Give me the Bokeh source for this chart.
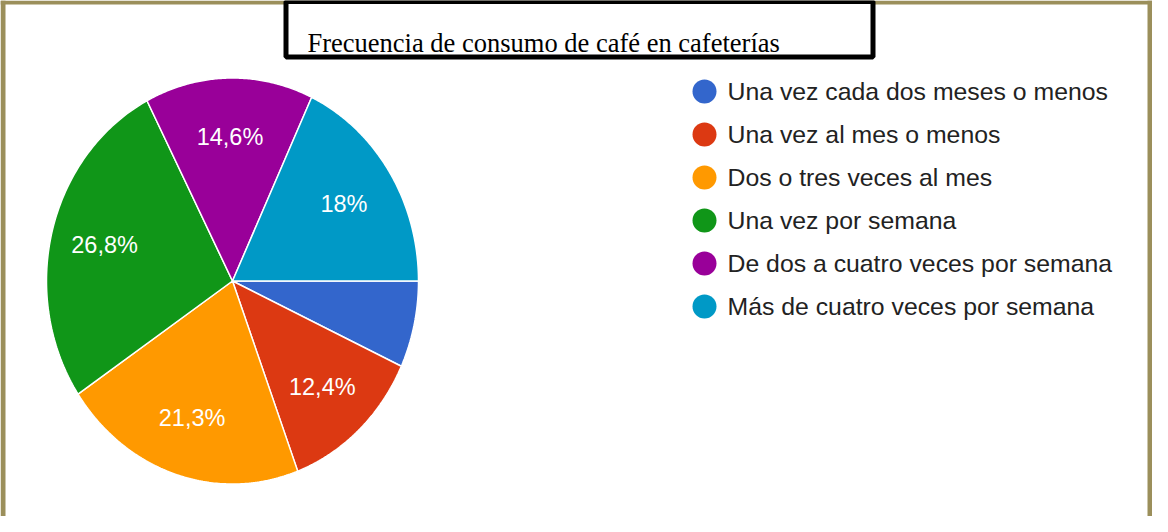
import numpy as np
from bokeh.plotting import figure
from bokeh.models import Range1d, ColumnDataSource
from bokeh.core.properties import value
from bokeh.embed import file_html
from bokeh.resources import INLINE

# ---- data ----
title = "Frecuencia de consumo de café en cafeterías"
categories = [
    "Una vez cada dos meses o menos",
    "Una vez al mes o menos",
    "Dos o tres veces al mes",
    "Una vez por semana",
    "De dos a cuatro veces por semana",
    "Más de cuatro veces por semana",
]
values = [6.9, 12.4, 21.3, 26.8, 14.6, 18.0]
colors = ["#3366cc", "#dc3912", "#ff9900", "#109618", "#990099", "#0099c6"]

# ---- layout (page pixel coordinates, y down) ----
W, H = 1152, 516
p = figure(width=W, height=H, x_range=Range1d(8, 8 + W), y_range=Range1d(8 + H, 8),
           x_axis_type=None, y_axis_type=None, toolbar_location=None,
           output_backend="svg", min_border=0, outline_line_color=None,
           background_fill_color="white", border_fill_color="white")
p.xgrid.visible = False
p.ygrid.visible = False

# olive frame (left, top, right)
frame_col = "#9b8f5b"
p.quad(left=[8, 8, 1155], right=[13, 1160, 1160], top=[8, 8, 8], bottom=[524, 12, 524],
       fill_color=frame_col, line_color=None)

# title box
p.quad(left=[293.5], right=[880.5], top=[9], bottom=[64.5],
       fill_color="white", line_color="black", line_width=5)
p.text(x=[315], y=[50], text=[title], text_font=value("Liberation Serif"),
       text_font_size="26.5px", text_color="black", text_baseline="alphabetic")

# pie (slightly elliptical as in reference)
cx, cy, rx, ry = 240.0, 288.5, 186.0, 203.0
total = sum(values)
cum = np.concatenate([[0.0], np.cumsum(values)]) / total * 2 * np.pi
xs, ys = [], []
lx, ly, ltxt = [], [], []
for i in range(len(values)):
    a0, a1 = cum[i], cum[i + 1]
    t = np.linspace(a0, a1, 120)
    xs.append([cx] + list(cx + rx * np.cos(t)))
    ys.append([cy] + list(cy + ry * np.sin(t)))
    mid = (a0 + a1) / 2
    lx.append(cx + 0.71 * rx * np.cos(mid))
    ly.append(cy + 0.71 * ry * np.sin(mid))
    v = values[i]
    s = ("%g" % v).replace(".", ",") + "%" if v >= 10 else ""
    ltxt.append(s)

p.patches(xs=xs, ys=ys, fill_color=colors, line_color="white", line_width=1.5)
p.text(x=lx, y=ly, text=ltxt, text_font=value("Liberation Sans"), text_font_size="23.5px",
       text_color="white", text_align="center", text_baseline="middle")

# legend
leg_y = [99 + 43 * i for i in range(len(categories))]
p.scatter(x=[712] * len(categories), y=leg_y, size=24, marker="circle",
          fill_color=colors, line_color=None)
p.text(x=[735] * len(categories), y=leg_y, text=categories, text_font=value("Liberation Sans"),
       text_font_size="24.8px", text_color="#222222", text_baseline="middle")

open("out.html", "w").write(file_html(p, INLINE))
